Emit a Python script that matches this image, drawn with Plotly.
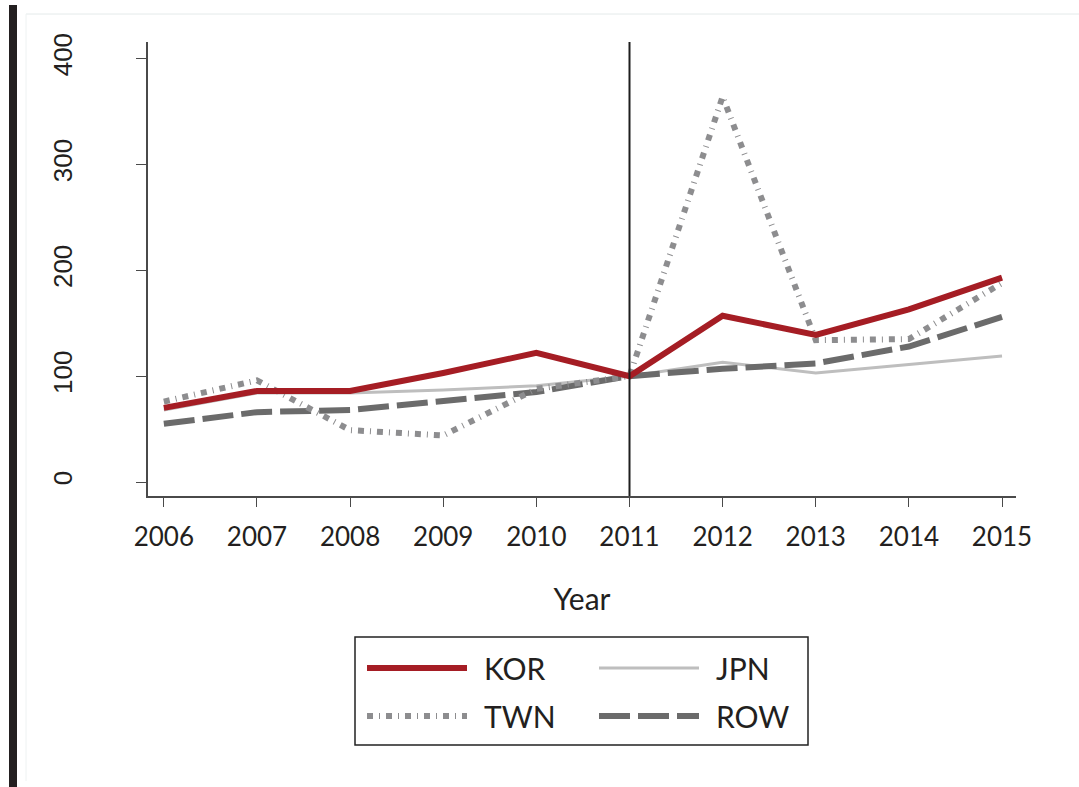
import plotly.graph_objects as go

# datos (índice 2011 = 100)
anios = [2006, 2007, 2008, 2009, 2010, 2011, 2012, 2013, 2014, 2015]
kor = [70, 86, 86, 103, 122, 100, 157, 139, 163, 193]
jpn = [68, 84, 84, 87, 91, 100, 113, 103, 111, 119]
twn = [76, 96, 49, 44, 88, 100, 364, 134, 135, 188]
row = [55, 66, 68, 76, 85, 100, 107, 112, 128, 156]
nombres = ["KOR", "JPN", "TWN", "ROW"]
y_ticks = [0, 100, 200, 300, 400]
y_ticktext = ["0", "100", "200", "300", "400"]
anio_corte = 2011

W, H = 1079, 787
L, R, T, B = 148, 63, 42, 291

estilos = {
    "KOR": dict(color="#A51D24", width=6, dash="solid"),
    "JPN": dict(color="#BEBEBE", width=3, dash="solid"),
    "TWN": dict(color="#8D8D8F", width=6, dash="6px,6px,1px,6px"),
    "ROW": dict(color="#6B6B6B", width=6, dash="31px,8px"),
}
series = {"KOR": kor, "JPN": jpn, "TWN": twn, "ROW": row}


def px_x(p):
    return (p - L) / (W - L - R)


def px_y(p):
    return (H - B - p) / (H - T - B)


fig = go.Figure()

# orden de dibujo: JPN abajo, luego ROW, TWN, KOR
for nombre in ["JPN", "ROW", "TWN", "KOR"]:
    fig.add_trace(go.Scatter(
        x=anios, y=series[nombre], mode="lines", name=nombre,
        line=estilos[nombre], showlegend=False
    ))

shapes = [
    # línea vertical del año de corte
    dict(type="line", xref="x", yref="paper",
         x0=anio_corte, x1=anio_corte, y0=0, y1=1,
         line=dict(color="#1e1e1e", width=2)),
    # caja de la leyenda
    dict(type="rect", xref="paper", yref="paper",
         x0=px_x(355), x1=px_x(808), y0=px_y(745), y1=px_y(637),
         line=dict(color="#222222", width=1.5), fillcolor="rgba(0,0,0,0)"),
    # barra negra a la izquierda y marco tenue
    dict(type="rect", xref="paper", yref="paper",
         x0=px_x(9), x1=px_x(17), y0=px_y(790), y1=px_y(5),
         line=dict(width=0), fillcolor="#231f20"),
    dict(type="line", xref="paper", yref="paper",
         x0=px_x(26), x1=px_x(1079), y0=px_y(14), y1=px_y(14),
         line=dict(color="#e4eaea", width=1)),
    dict(type="line", xref="paper", yref="paper",
         x0=px_x(26), x1=px_x(26), y0=px_y(781), y1=px_y(14),
         line=dict(color="#eef2f2", width=1)),
]

# leyenda dibujada a mano (muestras largas como en el original)
posiciones = {
    "KOR": (367, 668), "JPN": (599, 668),
    "TWN": (367, 716), "ROW": (599, 716),
}
anotaciones = []
for nombre in nombres:
    x0, yc = posiciones[nombre]
    e = estilos[nombre]
    shapes.append(dict(
        type="line", xref="paper", yref="paper",
        x0=px_x(x0), x1=px_x(x0 + 100), y0=px_y(yc), y1=px_y(yc),
        line=dict(color=e["color"], width=e["width"], dash=e["dash"])
    ))
    anotaciones.append(dict(
        text=nombre, xref="paper", yref="paper",
        x=px_x(x0 + 115), y=px_y(yc), xanchor="left", yanchor="middle",
        showarrow=False, font=dict(family="Lato", size=30, color="#231f20")
    ))

fig.update_layout(
    width=W, height=H,
    margin=dict(l=L, r=R, t=T, b=B),
    plot_bgcolor="white", paper_bgcolor="white",
    shapes=shapes, annotations=anotaciones,
    xaxis=dict(
        range=[2005.83, 2015.15], tickvals=anios,
        showgrid=False, zeroline=False,
        showline=True, linecolor="#4a4a4a", linewidth=1.5,
        ticks="outside", ticklen=9, tickwidth=1.3, tickcolor="#4a4a4a",
        ticklabelstandoff=8,
        tickfont=dict(family="Lato", size=26, color="#231f20"),
        title=dict(text="Year", standoff=38,
                   font=dict(family="Lato", size=30, color="#231f20")),
    ),
    yaxis=dict(
        range=[-13.2, 415.6], tickvals=y_ticks, ticktext=y_ticktext,
        showgrid=False, zeroline=False,
        showline=True, linecolor="#4a4a4a", linewidth=1.5,
        ticks="outside", ticklen=10, tickwidth=1.3, tickcolor="#4a4a4a",
        tickangle=-90, ticklabelstandoff=54,
        tickfont=dict(family="Liberation Sans", size=26, color="#231f20"),
    ),
)

fig.write_html(
    "out.html",
    config={"displayModeBar": False},
    post_script="document.body.style.margin='0';document.body.style.overflow='hidden';"
)
